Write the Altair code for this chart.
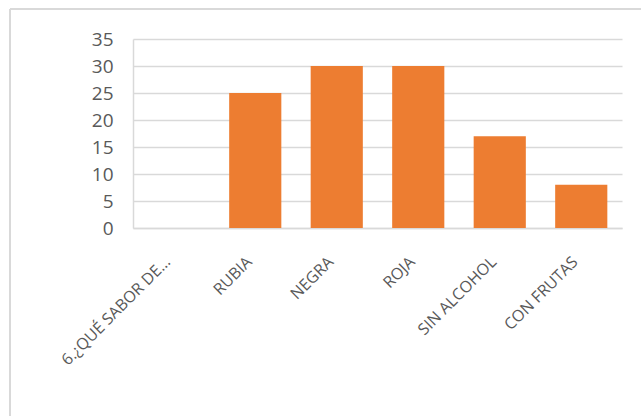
import altair as alt
import pandas as pd

categories = ["6.¿QUÉ SABOR DE…", "RUBIA", "NEGRA", "ROJA", "SIN ALCOHOL", "CON FRUTAS"]
values = [0, 25, 30, 30, 17, 8]
y_ticks = [0, 5, 10, 15, 20, 25, 30, 35]

df = pd.DataFrame({"cat": categories, "val": values})

GRID = "#d9d9d9"
TEXT = "#595959"

x_enc = alt.X(
    "cat:N",
    sort=categories,
    scale=alt.Scale(paddingInner=0.36, paddingOuter=0.18),
    axis=alt.Axis(
        title=None,
        labelAngle=-45,
        labelAlign="right",
        labelBaseline="middle",
        labelPadding=31,
        labelOffset=-6,
        labelFont="Open Sans",
        labelFontSize=16,
        labelColor=TEXT,
        labelLimit=400,
        ticks=False,
        domainColor=GRID,
        domainWidth=1.5,
        grid=False,
    ),
)

bars = alt.Chart(df).mark_bar(color="#ED7D31").encode(
    x=x_enc,
    y=alt.Y(
        "val:Q",
        scale=alt.Scale(domain=[0, 35], nice=False),
        axis=alt.Axis(
            title=None,
            values=y_ticks,
            labelFont="Open Sans",
            labelFontSize=19,
            labelColor=TEXT,
            labelPadding=20,
            ticks=False,
            domainColor=GRID,
            domainWidth=1.5,
            gridColor=GRID,
            gridWidth=1.5,
        ),
    ),
)

# outer chart frame (top and left edges visible)
frame_top = alt.Chart(df).mark_rule(color=GRID, strokeWidth=1.5, clip=False).encode(
    x=alt.value(-123), x2=alt.value(520), y=alt.value(-30)
)
frame_left = alt.Chart(df).mark_rule(color=GRID, strokeWidth=1.5, clip=False).encode(
    x=alt.value(-123), y=alt.value(-30), y2=alt.value(400)
)

chart = (
    alt.layer(bars, frame_top, frame_left)
    .properties(
        width=489,
        height=189,
        autosize=alt.AutoSizeParams(type="none"),
        padding={"left": 133, "top": 39, "right": 19, "bottom": 188},
        background="white",
    )
    .configure_view(stroke=None)
)

chart.save("out.html", embed_options={"renderer": "svg", "actions": False})
